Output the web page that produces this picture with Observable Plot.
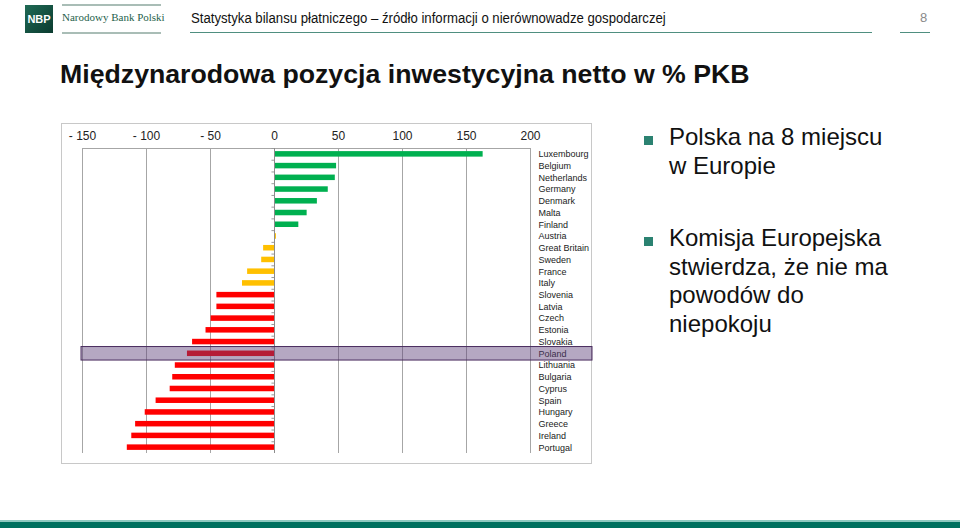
<!DOCTYPE html>
<html><head><meta charset="utf-8">
<script src="https://cdn.jsdelivr.net/npm/d3@7"></script>
<script src="https://cdn.jsdelivr.net/npm/@observablehq/plot@0.6"></script>
<style>
body{margin:0;background:#fff;width:960px;height:528px;position:relative;overflow:hidden;font-family:"Liberation Sans",Arial,sans-serif;}
.abs{position:absolute;}
.bul{position:absolute;width:9px;height:9px;background:#2b8271;}
.txt{position:absolute;font-size:24px;line-height:28.5px;color:#111;white-space:nowrap;}
</style></head><body>
<div class="abs" style="left:25px;top:5px;width:28px;height:28px;background:linear-gradient(135deg,#1f6a55,#0b3b2f);color:#fff;font-weight:bold;font-size:11px;line-height:28px;text-align:center;">NBP</div>
<div class="abs" style="left:62px;top:4px;width:99px;height:2px;background:#a9bdb6;"></div>
<div class="abs" style="left:62px;top:32px;width:99px;height:2px;background:#a9bdb6;"></div>
<div class="abs" style="left:62px;top:11px;font-family:'Liberation Serif','DejaVu Serif',serif;font-size:11px;color:#1f5f4c;white-space:nowrap;">Narodowy Bank Polski</div>
<div class="abs" id="htitle" style="left:191px;top:10px;font-size:14px;color:#111;white-space:nowrap;transform:scaleX(0.94);transform-origin:0 0;">Statystyka bilansu płatniczego – źródło informacji o nierównowadze gospodarczej</div>
<div class="abs" style="left:190px;top:32px;width:682px;height:1px;background:#4f8f80;"></div>
<div class="abs" style="left:920px;top:10px;font-size:13px;color:#8a8a8a;">8</div>
<div class="abs" style="left:900px;top:32px;width:30px;height:1px;background:#4f8f80;"></div>
<div class="abs" id="title" style="left:60px;top:59px;font-size:26.7px;font-weight:bold;color:#111;white-space:nowrap;">Międzynarodowa pozycja inwestycyjna netto w % PKB</div>

<div class="abs" id="chart" style="left:61px;top:123px;width:529px;height:339px;border:1px solid #c8c8c8;"></div>

<div class="bul" style="left:644px;top:136px;"></div>
<div class="txt" style="left:669px;top:123px;">Polska na 8 miejscu<br>w Europie</div>
<div class="bul" style="left:644px;top:237px;"></div>
<div class="txt" style="left:669px;top:224px;">Komisja Europejska<br>stwierdza, że nie ma<br>powodów do<br>niepokoju</div>

<div class="abs" style="left:0;top:520px;width:960px;height:2px;background:#8fc9c0;"></div>
<div class="abs" style="left:0;top:522px;width:960px;height:6px;background:#00705f;"></div>

<script>
const countries = ["Luxembourg","Belgium","Netherlands","Germany","Denmark","Malta","Finland","Austria","Great Britain","Sweden","France","Italy","Slovenia","Latvia","Czech","Estonia","Slovakia","Poland","Lithuania","Bulgaria","Cyprus","Spain","Hungary","Greece","Ireland","Portugal"];
const values = [163, 48.5, 47.5, 42, 33.5, 25.5, 19, 1.5, -8.5, -10, -21, -25, -45, -45, -49.5, -53.5, -64, -68, -77.5, -79.5, -81.5, -92.5, -101, -108.5, -111.5, -115];
const groups = ["g","g","g","g","g","g","g","y","y","y","y","y","r","r","r","r","r","r","r","r","r","r","r","r","r","r"];
const groupNames = ["g","y","r"];
const groupColors = ["#00b050","#ffc000","#ff0000"];
const xTicks = [-150, -100, -50, 0, 50, 100, 150, 200];
const highlighted = ["Poland"];

const data = countries.map((c, i) => ({country: c, value: values[i], group: groups[i]}));
const xDomain = [xTicks[0], xTicks[xTicks.length - 1]];
const H = 339, MT = 24, MB = 10;
const step = (H - MT - MB) / countries.length;

const chart = Plot.plot({
  width: 529, height: H,
  marginTop: MT, marginBottom: MB, marginLeft: 20, marginRight: 61,
  style: {fontFamily: "'Liberation Sans', Arial, sans-serif", color: "#222", background: "transparent", overflow: "visible"},
  x: {domain: xDomain},
  y: {domain: countries, paddingInner: 0.53, paddingOuter: 0.265, round: false},
  color: {domain: groupNames, range: groupColors},
  marks: [
    Plot.gridX(xTicks, {stroke: "#a6a6a6", strokeOpacity: 1}),
    Plot.ruleY([countries[0]], {y: d => d, dy: -step / 2, x1: () => xDomain[0], x2: () => xDomain[1], stroke: "#a6a6a6"}),
    Plot.axisX(xTicks, {anchor: "top", tickSize: 0, tickPadding: 9, fontSize: 12, tickFormat: d => d < 0 ? "- " + Math.abs(d) : String(d), label: null}),
    Plot.axisY({anchor: "right", tickSize: 0, tickPadding: 8, fontSize: 9, label: null}),
    Plot.barX(data, {x: "value", y: "country", fill: "group"}),
    Plot.ruleX([0], {stroke: "#8c8c8c"}),
    Plot.ruleY(countries, {y: d => d, x1: () => -2, x2: () => 0, dy: -step / 2, stroke: "#9a9a9a"}),
    Plot.barX(highlighted, {y: d => d, x1: () => xDomain[0], x2: () => xDomain[1], insetTop: -4, insetBottom: -4, insetRight: -62, insetLeft: -1, fill: "#5b3d78", fillOpacity: 0.45, stroke: "#4a2d5e", strokeWidth: 1})
  ]
});
document.getElementById("chart").appendChild(chart);
</script>
</body></html>
